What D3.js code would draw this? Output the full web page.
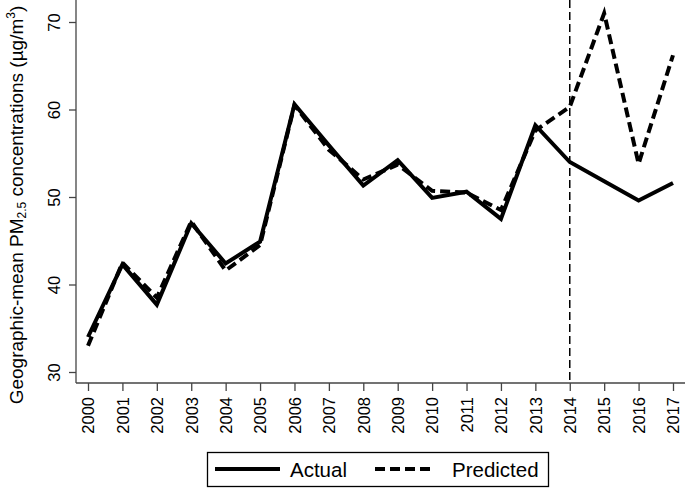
<!DOCTYPE html>
<html>
<head>
<meta charset="utf-8">
<script src="https://cdn.jsdelivr.net/npm/d3@7"></script>
<style>
  body { margin: 0; background: #fff; }
  svg { display: block; font-family: "Liberation Sans", Arial, Helvetica, sans-serif; }
</style>
</head>
<body>
<div class="chart"></div>
<script>
// Years on the x axis
const years = [2000, 2001, 2002, 2003, 2004, 2005, 2006, 2007, 2008,
               2009, 2010, 2011, 2012, 2013, 2014, 2015, 2016, 2017];

// Geographic-mean PM2.5
const actual = [34.0, 42.3, 37.7, 47.0, 42.4, 44.9, 60.6, 55.9, 51.3,
                54.2, 49.9, 50.6, 47.5, 58.2, 54.0, 51.8, 49.6, 51.6];
const predicted = [33.0, 42.5, 38.5, 47.2, 41.6, 44.5, 60.5, 55.4, 52.0,
                   53.7, 50.7, 50.5, 48.5, 57.6, 60.3, 71.0, 53.8, 66.2];

const yTicks = [30, 40, 50, 60, 70];
const cutYear = 2014;

const WIDTH = 685, HEIGHT = 488;
const axisLeftX = 76, axisBottomY = 383;

const svg = d3.select(".chart").append("svg")
  .attr("width", WIDTH)
  .attr("height", HEIGHT);

const x = d3.scalePoint().domain(years).range([88, 673]);
const y = d3.scaleLinear().domain([30, 70]).range([372, 22]);

// axes
const axisColor = "#444";

const gy = svg.append("g")
  .attr("transform", `translate(${axisLeftX},0)`)
  .call(d3.axisLeft(y).tickValues(yTicks).tickSize(7).tickSizeOuter(0));
gy.select(".domain").remove();
gy.append("line")
  .attr("x1", 0).attr("x2", 0)
  .attr("y1", 0).attr("y2", axisBottomY)
  .attr("stroke", axisColor).attr("stroke-width", 1.3);
gy.selectAll(".tick line").attr("stroke", axisColor).attr("stroke-width", 1.3);
gy.selectAll(".tick text")
  .attr("font-size", 16.5)
  .attr("fill", "#000")
  .attr("text-anchor", "middle")
  .attr("transform", "rotate(-90)")
  .attr("x", 0)
  .attr("y", -16)
  .attr("dy", 0);

const gx = svg.append("g")
  .attr("transform", `translate(0,${axisBottomY})`)
  .call(d3.axisBottom(x).tickSize(8).tickSizeOuter(0));
gx.select(".domain").remove();
gx.append("line")
  .attr("x1", axisLeftX).attr("x2", WIDTH)
  .attr("y1", 0).attr("y2", 0)
  .attr("stroke", axisColor).attr("stroke-width", 1.3);
gx.selectAll(".tick line").attr("stroke", axisColor).attr("stroke-width", 1.3);
gx.selectAll(".tick text")
  .attr("font-size", 16.5)
  .attr("fill", "#000")
  .attr("text-anchor", "end")
  .attr("transform", "rotate(-90)")
  .attr("x", -14)
  .attr("y", 0)
  .attr("dy", "0.35em");

// y axis title
const title = svg.append("text")
  .attr("transform", `translate(23,205) rotate(-90)`)
  .attr("text-anchor", "middle")
  .attr("font-size", 19)
  .attr("fill", "#000");
title.append("tspan").text("Geographic-mean PM");
title.append("tspan").attr("font-size", 12).attr("dy", 3).text("2.5");
title.append("tspan").attr("dy", -3).text(" concentrations (\u00b5g/m");
title.append("tspan").attr("font-size", 12).attr("dy", -8).text("3");
title.append("tspan").attr("dy", 8).text(")");

// vertical reference line
svg.append("line")
  .attr("x1", x(cutYear)).attr("x2", x(cutYear))
  .attr("y1", 0).attr("y2", axisBottomY)
  .attr("stroke", "#000")
  .attr("stroke-width", 1.5)
  .attr("stroke-dasharray", "8,4");

// series
const line = d3.line()
  .x((d, i) => x(years[i]))
  .y(d => y(d));

svg.append("path")
  .datum(predicted)
  .attr("d", line)
  .attr("fill", "none")
  .attr("stroke", "#000")
  .attr("stroke-width", 4)
  .attr("stroke-dasharray", "10,5");

svg.append("path")
  .datum(actual)
  .attr("d", line)
  .attr("fill", "none")
  .attr("stroke", "#000")
  .attr("stroke-width", 4)
  .attr("stroke-linejoin", "miter");

// legend
const legend = svg.append("g");
legend.append("rect")
  .attr("x", 207.5).attr("y", 452.5)
  .attr("width", 341).attr("height", 34)
  .attr("fill", "#fff")
  .attr("stroke", "#000")
  .attr("stroke-width", 1.3);

const legendItems = [
  { label: "Actual", dash: null, x0: 215, len: 65, tx: 290 },
  { label: "Predicted", dash: "10,5", x0: 375, len: 55, tx: 452 }
];
legendItems.forEach(item => {
  legend.append("line")
    .attr("x1", item.x0).attr("x2", item.x0 + item.len)
    .attr("y1", 469).attr("y2", 469)
    .attr("stroke", "#000")
    .attr("stroke-width", 4)
    .attr("stroke-dasharray", item.dash);
  legend.append("text")
    .attr("x", item.tx)
    .attr("y", 476.5)
    .attr("font-size", 20.5)
    .attr("fill", "#000")
    .text(item.label);
});
</script>
</body>
</html>
